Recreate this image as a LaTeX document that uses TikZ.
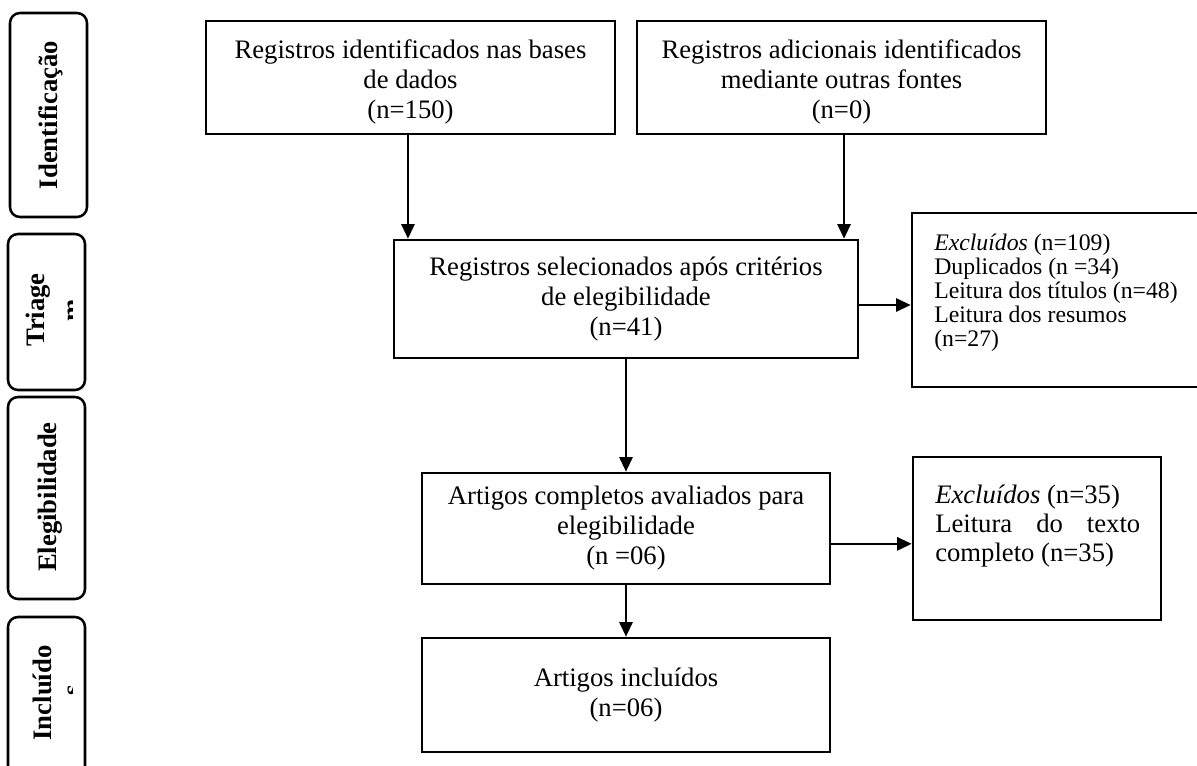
\documentclass[tikz,border=0pt]{standalone}
\usepackage{fontspec}
\setmainfont{Liberation Serif}
\usetikzlibrary{arrows.meta,calc}
\newcommand\mainfnt{\fontsize{20}{22.5}\selectfont}
\newcommand\exfnt{\fontsize{17.8}{18}\selectfont}
\newcommand\labfnt{\fontsize{20}{24}\selectfont\bfseries}
\tikzset{
  box/.style={draw, line width=2pt, inner sep=0pt, align=center, font=\mainfnt},
  exbox/.style={draw, line width=2pt, inner sep=0pt},
  lab/.style={draw, line width=1.9pt, rounded corners=7.5pt, inner sep=0pt, minimum width=57.75pt},
  labtxt/.style={rotate=90, anchor=base, inner sep=0pt, font=\labfnt},
  arr/.style={line width=1.6pt, -{Triangle[length=11pt,width=10pt]}},
}
\begin{document}
\begin{tikzpicture}[x=0.75pt,y=-0.75pt]
\useasboundingbox (0,0) rectangle (1197,765);
\clip (0,0) rectangle (1197,765);

% phase labels
\node[lab, minimum height=153pt] (L1) at (48.5,115) {};
\node[lab, minimum height=117pt] (L2) at (46.5,312) {};
\node[lab, minimum height=151.5pt] (L3) at (46.5,498) {};
\node[lab, minimum height=137.25pt] (L4) at (46.5,708.5) {};
\node[labtxt] (T1) at (57,115) {Identificação};
\node[labtxt] (T2) at (45,310) {Triage};
\node[labtxt] (T3) at (56,497) {Elegibilidade};
\node[labtxt] (T4) at (51,693) {Incluído};
\begin{scope}
  \clip (0,240) rectangle (72,385);
  \node[labtxt] (T2b) at (80,310) {m};
\end{scope}
\begin{scope}
  \clip (0,625) rectangle (72,765);
  \node[labtxt] (T4b) at (80,690) {s};
\end{scope}

% main flow boxes
\node[box, minimum width=306.75pt, minimum height=84.75pt] (A) at (410.5,77.5)
  {\rule{0pt}{20pt}Registros identificados nas bases\\de dados\\(n=150)};
\node[box, minimum width=306.75pt, minimum height=84.75pt] (B) at (841.5,77.5)
  {\rule{0pt}{20pt}Registros adicionais identificados\\mediante outras fontes\\(n=0)};
\node[box, minimum width=348pt, minimum height=88.5pt] (C) at (626,299)
  {Registros selecionados após critérios\\de elegibilidade\\(n=41)};
\node[box, minimum width=306pt, minimum height=83.25pt] (D) at (626,528.5)
  {Artigos completos avaliados para\\elegibilidade\\(n =06)};
\node[box, minimum width=306pt, minimum height=85.5pt] (E) at (626,695)
  {Artigos incluídos\\(n=06)};

% exclusion boxes
\node[exbox, minimum width=238.5pt, minimum height=130.5pt] (X1) at (1071,300) {};
\node[anchor=base west, inner sep=0pt] (X1t) at (934,250)
  {\parbox[t]{200pt}{\exfnt\textit{Excluídos} (n=109)\\Duplicados (n =34)\\Leitura dos títulos (n=48)\\Leitura dos resumos\\(n=27)}};
\node[exbox, minimum width=186pt, minimum height=122.25pt] (X2) at (1037,538.5) {};
\node[anchor=base west, inner sep=0pt] (X2t) at (935,503)
  {\parbox[t]{153.75pt}{\fontsize{20}{21.75}\selectfont\hyphenpenalty=10000\exhyphenpenalty=10000
   \textit{Excluídos} (n=35)\\Leitura do texto completo (n=35)}};

% connectors
\draw[arr] ([xshift=-1.9pt]A.south) -- ([xshift=-1.9pt]A.south |- C.north);
\draw[arr] ([xshift=1.9pt]B.south) -- ([xshift=1.9pt]B.south |- C.north);
\draw[arr] (C.south) -- (D.north);
\draw[arr] (D.south) -- (E.north);
\draw[arr] ([yshift=-4.5pt]C.east) -- ([yshift=-4.5pt]C.east -| X1.west);
\draw[arr] ([yshift=-11.5pt]D.east) -- ([yshift=-11.5pt]D.east -| X2.west);
\end{tikzpicture}
\end{document}
